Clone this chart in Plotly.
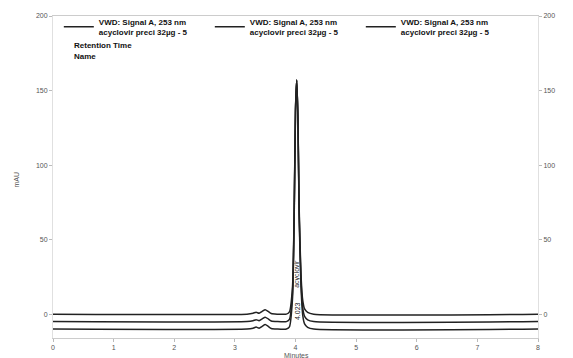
import plotly.graph_objects as go

# retention time (min)
time_min = [0.0, 3.2, 3.3, 3.35, 3.4, 3.45, 3.5, 3.55, 3.6, 3.7, 3.85, 3.9, 3.95, 3.98,
            4.0, 4.02, 4.04, 4.06, 4.09, 4.12, 4.15, 4.2, 4.3, 8.0]
# absorbance of each run (mAU), before stacking offset
run1 = [0, 0, 0.6, 1.3, 0.6, 1.8, 3.0, 1.8, 0.4, 0, 0, 1.5, 18, 75, 138, 157, 132, 72, 27, 9, 3.5, 1.2, 0, 0]
run2 = [0, 0, 0.6, 1.3, 0.6, 1.8, 3.0, 1.8, 0.4, 0, 0, 1.5, 19, 78, 142, 162, 136, 74, 28, 9, 3.5, 1.2, 0, 0]
run3 = [0, 0, 0.6, 1.3, 0.6, 1.8, 3.0, 1.8, 0.4, 0, 0, 1.5, 20, 80, 146, 167, 140, 76, 29, 9, 3.5, 1.2, 0, 0]
offsets = [0, -5, -10]
series_name = "<b>VWD: Signal A, 253 nm<br>acyclovir preci 32µg - 5</b>"

peak_rt = 4.023
peak_name = "acyclovir"

x_ticks = [0, 1, 2, 3, 4, 5, 6, 7, 8]
y_ticks = [0, 50, 100, 150, 200]

fig = go.Figure()
for run, off in zip([run1, run2, run3], offsets):
    fig.add_trace(go.Scatter(
        x=time_min, y=[v + off for v in run], mode="lines",
        line=dict(color="#222222", width=1.5, shape="spline", smoothing=0.6),
        name=series_name, showlegend=True))

# invisible trace for right axis
fig.add_trace(go.Scatter(x=[0], y=[0], yaxis="y2", mode="markers",
                         marker=dict(opacity=0), showlegend=False, hoverinfo="skip"))

tickfont = dict(family="Liberation Sans, Arial", size=7, color="#555555")
fig.update_layout(
    template="none",
    width=565, height=350,
    margin=dict(l=45, r=35, t=8, b=20, autoexpand=False),
    paper_bgcolor="white", plot_bgcolor="white",
    font=dict(family="Liberation Sans, Arial", color="#222222"),
    xaxis=dict(range=[0, 8], tickvals=x_ticks, tickfont=tickfont, showgrid=False,
               zeroline=False, showline=True, linecolor="#cccccc", linewidth=1,
               mirror=True, ticks="outside", ticklen=3, tickcolor="#bbbbbb"),
    yaxis=dict(range=[-16, 200], tickvals=y_ticks, tickfont=tickfont, showgrid=False,
               zeroline=False, showline=True, linecolor="#e0e0e0", linewidth=1,
               ticks="outside", ticklen=3, tickcolor="#bbbbbb"),
    yaxis2=dict(range=[-16, 200], tickvals=y_ticks, tickfont=tickfont, overlaying="y",
                side="right", matches="y", showgrid=False, zeroline=False, showline=True,
                linecolor="#e0e0e0", linewidth=1, ticks="outside", ticklen=3, tickcolor="#bbbbbb"),
    legend=dict(orientation="h", x=0.012, y=1.019, xanchor="left", yanchor="top",
                bgcolor="rgba(255,255,255,0)", entrywidth=106, itemwidth=30,
                font=dict(family="Liberation Sans, Arial", size=8, color="#111111"),
                tracegroupgap=0),
    showlegend=True,
)

fig.add_annotation(x=(72 - 53) / 485, y=(338 - 46) / 322, xref="paper", yref="paper",
                   xanchor="left", yanchor="middle", text="<b>Retention Time</b>",
                   showarrow=False, font=dict(size=8, color="#111111"))
fig.add_annotation(x=(72 - 53) / 485, y=(338 - 57) / 322, xref="paper", yref="paper",
                   xanchor="left", yanchor="middle", text="<b>Name</b>",
                   showarrow=False, font=dict(size=8, color="#111111"))
fig.add_annotation(x=(296 - 53) / 485, y=(338 - 355) / 322, xref="paper", yref="paper",
                   yanchor="middle", text="Minutes", showarrow=False,
                   font=dict(size=7, color="#555555"))
fig.add_annotation(x=(10 - 53) / 485, y=(338 - 180) / 322, xref="paper", yref="paper",
                   text="mAU", textangle=-90, showarrow=False,
                   font=dict(size=7, color="#555555"))
fig.add_annotation(x=peak_rt, y=27, text=peak_name, textangle=-90, showarrow=False,
                   font=dict(size=7, color="#222222"))
fig.add_annotation(x=peak_rt, y=2, text=f"{peak_rt:.3f}", textangle=-90, showarrow=False,
                   font=dict(size=7, color="#222222"))

fig.write_html("out.html")
